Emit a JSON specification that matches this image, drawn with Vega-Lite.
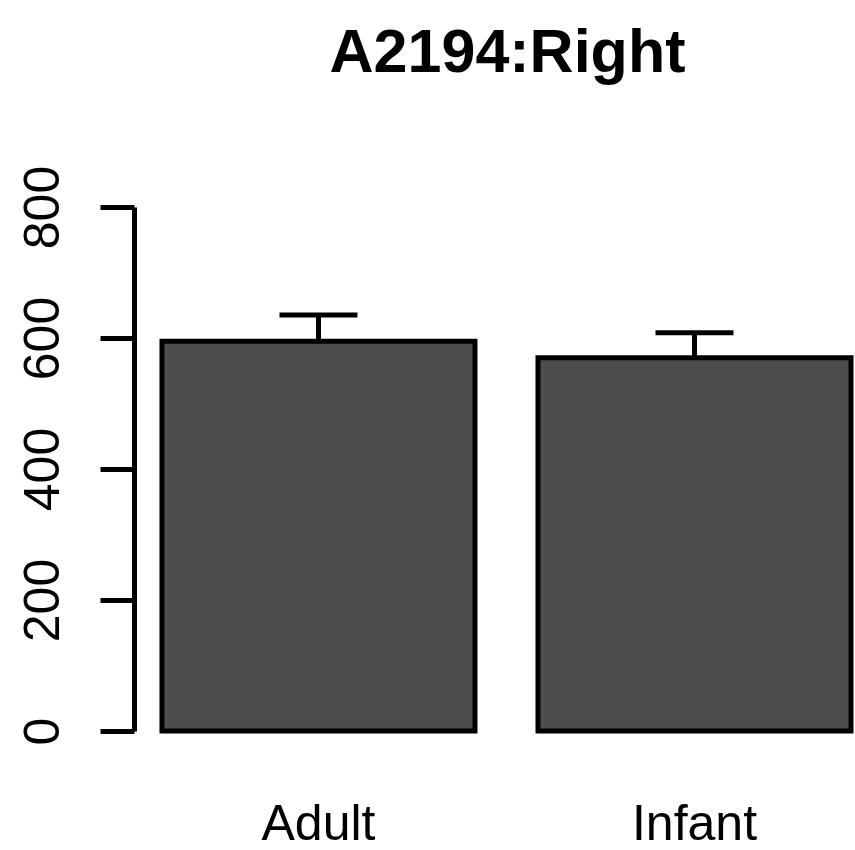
{
  "$schema": "https://vega.github.io/schema/vega-lite/v6.json",
  "width": 717,
  "height": 524,
  "autosize": {"type": "none"},
  "padding": {"left": 134, "right": 4, "top": 207, "bottom": 119},
  "background": "white",
  "title": {
    "text": "A2194:Right",
    "font": "Liberation Sans",
    "fontSize": 61,
    "fontWeight": "bold",
    "color": "black",
    "anchor": "middle",
    "frame": "group",
    "dx": 15,
    "baseline": "alphabetic",
    "offset": 32
  },
  "data": {
    "values": [
      {"group": "Adult", "value": 595, "upper": 635},
      {"group": "Infant", "value": 570, "upper": 608}
    ]
  },
  "encoding": {
    "x": {
      "field": "group",
      "type": "nominal",
      "sort": ["Adult", "Infant"],
      "scale": {"paddingInner": 0.1676, "paddingOuter": 0.0372, "align": 1},
      "axis": {
        "title": null,
        "domain": false,
        "ticks": false,
        "tickSize": 0,
        "labelAngle": 0,
        "labelFont": "Liberation Sans",
        "labelFontSize": 50,
        "labelColor": "black",
        "labelBaseline": "alphabetic",
        "labelPadding": 108
      }
    }
  },
  "layer": [
    {
      "mark": {"type": "bar", "fill": "#4d4d4d", "stroke": "black", "strokeWidth": 5},
      "encoding": {
        "y": {
          "field": "value",
          "type": "quantitative",
          "scale": {"domain": [0, 800], "nice": false},
          "axis": {
            "title": null,
            "values": [0, 200, 400, 600, 800],
            "grid": false,
            "domainColor": "black",
            "domainWidth": 5,
            "tickColor": "black",
            "tickWidth": 5,
            "tickSize": 34,
            "labelAngle": -90,
            "labelAlign": "center",
            "labelBaseline": "alphabetic",
            "labelFont": "Liberation Sans",
            "labelFontSize": 50,
            "labelColor": "black",
            "labelPadding": 42
          }
        }
      }
    },
    {
      "mark": {"type": "rule", "stroke": "black", "strokeWidth": 5},
      "encoding": {
        "y": {"field": "value", "type": "quantitative"},
        "y2": {"field": "upper"}
      }
    },
    {
      "mark": {"type": "tick", "color": "black", "size": 78, "thickness": 5, "opacity": 1},
      "encoding": {
        "y": {"field": "upper", "type": "quantitative"}
      }
    }
  ],
  "config": {"view": {"stroke": null}}
}
